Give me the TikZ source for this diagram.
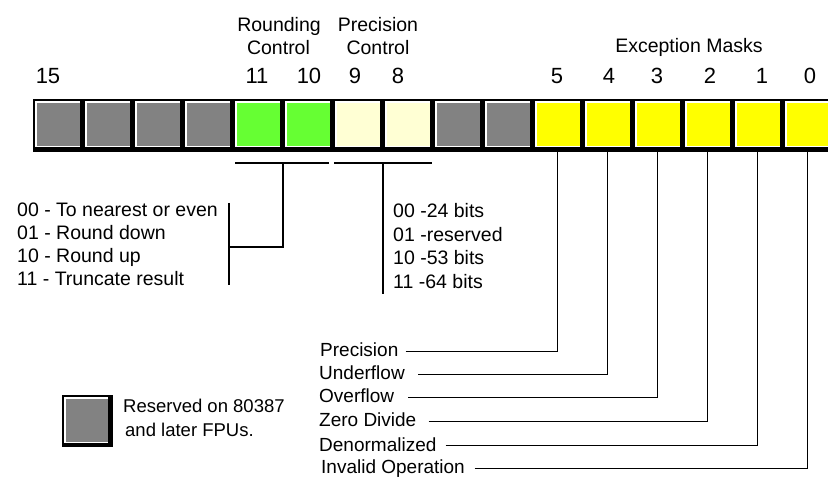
\documentclass[tikz,border=0pt]{standalone}
\usepackage{fontspec}
\setmainfont{Liberation Sans}
\definecolor{cgray}{RGB}{130,130,130}
\definecolor{cgreen}{RGB}{102,255,51}
\definecolor{ccream}{RGB}{255,255,212}
\definecolor{cyellow}{RGB}{255,255,0}
\begin{document}
\begin{tikzpicture}[x=1pt,y=-1pt,
  cellbox/.style={minimum width=45pt, minimum height=46pt, inner sep=0pt, outer sep=0pt, fill=white,
    path picture={\fill[#1] ([shift={(2,2)}]path picture bounding box.north west) rectangle ([shift={(0,-1)}]path picture bounding box.south east);}},
  txt/.style={font=\fontsize{19}{22}\selectfont, inner sep=0pt},
  title/.style={font=\fontsize{19.5}{22}\selectfont, inner sep=0pt, anchor=base},
  digit/.style={font=\fontsize{22}{26}\selectfont, inner sep=0pt, anchor=base},
  listtxt/.style={font=\fontsize{19.5}{22}\selectfont, inner sep=0pt, anchor=base west},
  legtxt/.style={font=\fontsize{18.5}{22}\selectfont, inner sep=0pt, anchor=base west},
  lead/.style={txt, anchor=base west, text height=11pt, text depth=0pt},
  conn/.style={draw=black, line width=1.6pt},
]
\useasboundingbox (0,0) rectangle (828,478);
\fill[white] (0,0) rectangle (828,478);

% register bar
\fill[black] (33,99) rectangle (830,152);
\foreach \i/\c in {0/cgray,1/cgray,2/cgray,3/cgray,4/cgreen,5/cgreen,6/ccream,7/ccream,8/cgray,9/cgray,10/cyellow,11/cyellow,12/cyellow,13/cyellow,14/cyellow,15/cyellow}{
  \pgfmathtruncatemacro{\b}{15-\i}
  \node[cellbox=\c] (c\b) at (57.5+50*\i,124) {};
}

% bit numbers
\node[digit] (d15) at (48,83.5) {15};
\node[digit] (d11) at (257,83.5) {11};
\node[digit] (d10) at (309,83.5) {10};
\node[digit] (d9) at (355,83.5) {9};
\node[digit] (d8) at (398,83.5) {8};
\node[digit] (d5) at (557,83.5) {5};
\node[digit] (d4) at (609,83.5) {4};
\node[digit] (d3) at (657,83.5) {3};
\node[digit] (d2) at (710,83.5) {2};
\node[digit] (d1) at (762,83.5) {1};
\node[digit] (d0) at (810,83.5) {0};

% group titles
\node[title] (rt1) at (279,32) {Rounding};
\node[title] (rt2) at (278.5,55) {Control};
\node[title] (pt1) at (378,32) {Precision};
\node[title] (pt2) at (378,55) {Control};
\node[title] (et) at (689,53) {Exception Masks};

% rounding control options
\node[listtxt] (r00) at (17,217) {00 - To nearest or even};
\node[listtxt] (r01) at (17,240) {01 - Round down};
\node[listtxt] (r10) at (17,263) {10 - Round up};
\node[listtxt] (r11) at (17,286) {11 - Truncate result};

% precision control options
\node[listtxt] (p00) at (393,218) {00 -24 bits};
\node[listtxt] (p01) at (393,242) {01 -reserved};
\node[listtxt] (p10) at (393,265) {10 -53 bits};
\node[listtxt] (p11) at (393,289) {11 -64 bits};

% rounding bracket
\coordinate (rL) at (235,163);
\coordinate (rR) at (329,163);
\coordinate (rM) at (283,163);
\coordinate (rJ) at (229,247);
\coordinate (rT) at (229,203);
\coordinate (rB) at (229,285);
\draw[conn] (rL) -- (rR);
\draw[conn] (rM) |- (rJ);
\draw[conn] (rT) -- (rB);

% precision bracket
\coordinate (pL) at (334,163);
\coordinate (pR) at (432,163);
\coordinate (pM) at (383,163);
\coordinate (pB) at (383,294);
\draw[conn] (pL) -- (pR);
\draw[conn] (pM) -- (pB);

% exception labels
\node[lead] (lprec) at (320,357) {Precision};
\node[lead] (lunder) at (319,380) {Underflow};
\node[lead] (lover) at (319,403) {Overflow};
\node[lead] (lzero) at (319,427) {Zero Divide};
\node[lead] (ldenorm) at (319,451) {Denormalized};
\node[lead] (linv) at (321,474) {Invalid Operation};
\draw[conn] ([xshift=7]lprec.east) -| (c5.south);
\draw[conn] ([xshift=13.5]lunder.east) -| (c4.south);
\draw[conn] ([xshift=14]lover.east) -| (c3.south);
\draw[conn] ([xshift=12]lzero.east) -| (c2.south);
\draw[conn] ([xshift=9]ldenorm.east) -| (c1.south);
\draw[conn] ([xshift=9.5]linv.east) -| (c0.south);

% legend
\fill[black] (62,395) rectangle (113,447);
\node[cellbox=cgray, minimum width=44pt] (legbox) at (86,420) {};
\node[legtxt] (leg1) at (123,413) {Reserved on 80387};
\node[legtxt] (leg2) at (125,437) {and later FPUs.};
\end{tikzpicture}
\end{document}
